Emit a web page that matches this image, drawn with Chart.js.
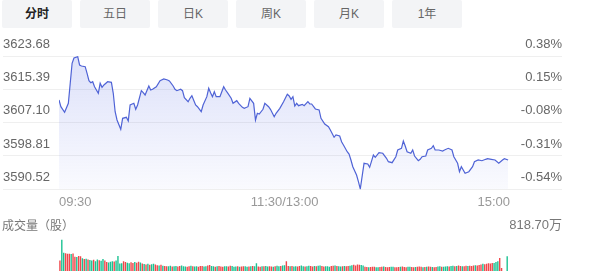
<!DOCTYPE html>
<html lang="zh">
<head>
<meta charset="UTF-8">
<title>分时</title>
<script src="https://cdn.jsdelivr.net/npm/chart.js"></script>
<style>
  html, body { margin: 0; padding: 0; background: #fff; }
  body { width: 590px; height: 272px; position: relative; overflow: hidden;
         font-family: 'Liberation Sans', 'Noto Sans CJK SC', sans-serif; }
  .tabs { position: absolute; left: 2px; top: 0; display: flex; gap: 8px; }
  .tab { width: 70px; height: 28px; line-height: 28px; text-align: center; background: #f3f4f6;
         border-radius: 2px; font-size: 12px; color: #666; font-family: 'Liberation Sans', 'Noto Sans CJK SC', sans-serif; }
  .tab.on { color: #222; font-weight: bold; }
  #priceChart { position: absolute; left: 0; top: 30px; }
  #volChart { position: absolute; left: 0; top: 212px; }
</style>
</head>
<body>
<div class="tabs">
  <div class="tab on">分时</div>
  <div class="tab">五日</div>
  <div class="tab">日K</div>
  <div class="tab">周K</div>
  <div class="tab">月K</div>
  <div class="tab">1年</div>
</div>
<canvas id="priceChart" width="590" height="182"></canvas>
<canvas id="volChart" width="590" height="60"></canvas>

<script>
  // price axis ticks (left) and change % (right)
  const priceTicks = [3590.52, 3598.81, 3607.10, 3615.39, 3623.68];
  const pctLabels = ['-0.54%', '-0.31%', '-0.08%', '0.15%', '0.38%'];

  // time axis: minute index 0..240 (09:30 - 11:30 / 13:00 - 15:00)
  const timeTickPos = [0, 120.5, 241];
  const timeLabels = ['09:30', '11:30/13:00', '15:00'];

  // intraday price
  const minutes = [
    0, 1, 3, 5, 6, 7, 8, 10, 11, 12,
    14, 15, 16, 17, 18, 19, 21, 22, 23, 24,
    26, 28, 29, 30, 31, 33, 34, 36, 37, 38,
    40, 41, 42, 44, 45, 46, 48, 49, 50, 52,
    54, 56, 58, 59, 61, 62, 63, 65, 66, 67,
    69, 70, 71, 73, 74, 76, 77, 79, 80, 81,
    82, 83, 84, 86, 88, 89, 90, 92, 93, 95,
    96, 98, 99, 101, 102, 104, 105, 106, 107, 109,
    110, 112, 113, 115, 116, 118, 120, 122, 123, 124,
    125, 126, 127, 128, 130, 131, 133, 134, 135, 137,
    139, 140, 142, 144, 145, 147, 148, 150, 151, 152,
    154, 155, 156, 157, 159, 160, 161, 163, 165, 166,
    168, 169, 171, 173, 175, 176, 178, 180, 181, 183,
    184, 185, 186, 188, 189, 190, 192, 193, 194, 196,
    197, 199, 200, 201, 203, 205, 206, 208, 210, 211,
    213, 214, 215, 217, 219, 221, 222, 224, 226, 228,
    229, 231, 233, 235, 237, 238, 240
  ];
  const prices = [
    3612.73, 3611.07, 3609.67, 3611.91, 3616.89, 3621.86, 3623.18, 3623.50, 3621.44, 3621.19,
    3621.02, 3619.38, 3617.54, 3617.04, 3617.29, 3616.04, 3614.40, 3616.89, 3615.89, 3616.47,
    3617.29, 3617.14, 3614.40, 3609.82, 3607.76, 3605.45, 3608.18, 3608.43, 3607.51, 3611.49,
    3611.91, 3610.42, 3611.49, 3615.05, 3614.55, 3613.98, 3616.22, 3615.22, 3615.40, 3616.04,
    3617.54, 3617.96, 3617.71, 3617.46, 3616.22, 3615.40, 3615.05, 3615.40, 3615.05, 3613.31,
    3612.31, 3613.16, 3613.80, 3611.49, 3611.07, 3609.82, 3611.49, 3613.56, 3615.65, 3614.55,
    3613.56, 3614.80, 3613.56, 3613.56, 3616.04, 3615.22, 3614.55, 3613.16, 3611.91, 3612.56,
    3611.91, 3610.92, 3610.67, 3611.07, 3613.16, 3611.91, 3607.76, 3609.43, 3609.25, 3610.42,
    3611.91, 3611.07, 3610.42, 3608.58, 3609.43, 3610.67, 3612.31, 3614.15, 3613.73, 3612.91,
    3613.56, 3611.24, 3611.91, 3611.32, 3611.66, 3611.32, 3612.31, 3611.74, 3611.74, 3610.50,
    3610.25, 3608.18, 3606.76, 3606.09, 3605.27, 3603.46, 3604.03, 3603.78, 3602.36, 3601.54,
    3599.87, 3599.30, 3597.81, 3596.14, 3594.08, 3592.41, 3590.60, 3596.99, 3596.81, 3595.99,
    3599.05, 3598.48, 3599.62, 3599.48, 3598.23, 3597.39, 3597.14, 3598.63, 3600.30, 3600.72,
    3602.54, 3601.29, 3599.87, 3599.48, 3600.30, 3598.80, 3597.63, 3597.98, 3598.63, 3598.80,
    3600.30, 3600.72, 3601.37, 3600.30, 3600.30, 3600.05, 3600.30, 3600.72, 3600.30, 3598.63,
    3596.99, 3594.90, 3596.14, 3594.50, 3594.90, 3596.14, 3597.39, 3597.81, 3597.63, 3597.98,
    3598.13, 3597.98, 3597.81, 3596.99, 3597.81, 3598.13, 3597.81
  ];

  // volume per minute (万股), one per minute 0..240
  const volume = [
    275, 818.7, 470, 460, 450, 445, 440, 455, 370, 360,
    390, 380, 330, 310, 320, 300, 285, 270, 290, 255,
    300, 280, 265, 310, 270, 230, 220, 240, 255, 245,
    270, 390, 195, 200, 250, 235, 215, 200, 225, 205,
    230, 215, 240, 220, 195, 180, 170, 190, 165, 175,
    185, 170, 150, 140, 160, 135, 130, 125, 120, 135,
    118, 122, 130, 115, 128, 140, 124, 118, 112, 126,
    135, 120, 115, 122, 110, 128, 132, 118, 125, 140,
    155, 128, 120, 112, 124, 130, 118, 110, 125, 120,
    115, 135, 128, 112, 118, 122, 108, 115, 126, 120,
    112, 118, 125, 130, 122, 200, 118, 112, 125, 120,
    130, 115, 122, 118, 110, 126, 135, 120, 128, 140,
    150, 250, 130, 120, 128, 115, 125, 118, 132, 140,
    126, 118, 122, 135, 128, 116, 130, 124, 138, 145,
    130, 118, 125, 120, 112, 128, 135, 142, 130, 122,
    118, 125, 130, 120, 128, 136, 150, 160, 140, 170,
    165, 155, 145, 110, 105, 98, 102, 112, 108, 100,
    95, 104, 110, 115, 106, 98, 102, 108, 112, 100,
    96, 105, 110, 118, 104, 99, 108, 112, 102, 97,
    106, 110, 115, 108, 100, 104, 112, 118, 110, 104,
    98, 106, 114, 120, 108, 112, 118, 125, 118, 130,
    135, 122, 128, 140, 132, 120, 126, 135, 128, 138,
    130, 142, 150, 145, 155, 170, 185, 178, 190, 200,
    195, 210, 210, 230, 250, 340, 80, 0, 0, 380,
    0
  ];
  // r = up minute, g = down minute
  const volSide = (
    'rggrrrgrrg' + 'rrgrgrggrg' + 'grggrrgggr' + 'ggggrrggrr' + 'grrgrgrgrg' +
    'grrgrgrrgg' + 'rggrrgggrr' + 'grggrrrggr' + 'rggrgrrrgg' + 'rrgggrgrrg' +
    'grgrggrrgr' + 'ggrrgrggrg' + 'grrgrggrrg' + 'grggrrgrgg' + 'rrgggrrgrg' +
    'grgrrggrrr' + 'rggrrgrrrg' + 'grrgrrrggr' + 'rrgrrrggrr' + 'grrrgrgrrg' +
    'rrggrgggrg' + 'grgrrgrrgr' + 'rrgrrrgrrr' + 'rrgggrrggg' + 'r'
  ).split('');
  const volMax = 818.7;
  const volMaxLabel = '818.70万';

  const UP = '#f0474b';
  const DOWN = '#1cc292';
  const numFont = { family: "'Liberation Sans', 'Noto Sans CJK SC', sans-serif", size: 13 };
  const cjkFont = { family: "'Liberation Sans', 'Noto Sans CJK SC', sans-serif", size: 12, weight: 'normal' };

  function fillGradient(ctx) {
    const area = ctx.chart.chartArea;
    if (!area) return 'rgba(84,104,228,0.1)';
    const g = ctx.chart.ctx.createLinearGradient(0, area.top, 0, area.bottom);
    g.addColorStop(0, 'rgba(84,104,228,0.2)');
    g.addColorStop(1, 'rgba(84,104,228,0.03)');
    return g;
  }

  const setPriceTicks = s => { s.ticks = priceTicks.map(v => ({ value: v })); };

  new Chart(document.getElementById('priceChart'), {
    type: 'line',
    data: {
      datasets: [{
        data: minutes.map((m, i) => ({ x: m, y: prices[i] })),
        yAxisID: 'y',
        borderColor: '#4f63d6',
        borderWidth: 1.2,
        pointRadius: 0,
        tension: 0,
        fill: 'start',
        backgroundColor: fillGradient
      }]
    },
    options: {
      responsive: false,
      animation: false,
      layout: { autoPadding: false, padding: { left: 3, right: 28, top: 26, bottom: 2 } },
      plugins: { legend: { display: false }, tooltip: { enabled: false } },
      scales: {
        x: {
          type: 'linear', min: 0, max: 241,
          grid: { display: false, drawTicks: false },
          border: { display: false },
          afterBuildTicks: s => { s.ticks = timeTickPos.map(v => ({ value: v })); },
          afterFit: s => { s.height = 20.7; },
          ticks: { align: 'inner', maxRotation: 0, autoSkip: false, padding: 5, color: '#999', font: numFont,
                   callback: (v, i) => timeLabels[i] }
        },
        y: {
          position: 'left', min: priceTicks[0], max: priceTicks[priceTicks.length - 1],
          afterBuildTicks: setPriceTicks,
          afterFit: s => { s.width = 56; },
          grid: { color: '#efefef', drawTicks: true, tickLength: 56 },
          border: { display: false },
          ticks: { crossAlign: 'far', labelOffset: -12, color: '#666', font: numFont,
                   callback: (v, i) => priceTicks[i].toFixed(2) }
        },
        y2: {
          position: 'right', display: true, min: priceTicks[0], max: priceTicks[priceTicks.length - 1],
          afterBuildTicks: setPriceTicks,
          afterFit: s => { s.width = 52; },
          grid: { drawOnChartArea: false, color: '#efefef', drawTicks: true, tickLength: 52 },
          border: { display: false },
          ticks: { crossAlign: 'far', labelOffset: -12, color: '#666', font: numFont,
                   callback: (v, i) => pctLabels[i] }
        }
      }
    }
  });

  new Chart(document.getElementById('volChart'), {
    type: 'bar',
    data: {
      labels: volume.map((_, i) => i),
      datasets: [{
        data: volume,
        xAxisID: 'x',
        yAxisID: 'y',
        backgroundColor: volSide.map(c => c === 'r' ? UP : DOWN),
        barPercentage: 0.75,
        categoryPercentage: 1
      }]
    },
    options: {
      responsive: false,
      animation: false,
      layout: { autoPadding: false, padding: { left: 2, right: 28, top: 0, bottom: 1 } },
      plugins: {
        legend: { display: false },
        tooltip: { enabled: false },
        title: { display: true, text: '成交量（股）', align: 'start', color: '#777', font: cjkFont,
                 padding: { top: 7, bottom: 6 } }
      },
      scales: {
        x: { display: false, offset: true },
        yl: {
          position: 'left', display: true,
          afterFit: s => { s.width = 57; },
          ticks: { display: false },
          grid: { display: false },
          border: { display: false }
        },
        y: {
          position: 'right', min: 0, max: volMax,
          afterBuildTicks: s => { s.ticks = [{ value: volMax }]; },
          afterFit: s => { s.width = 52; },
          grid: { display: false },
          border: { display: false },
          // tiny lineHeight keeps the label from reserving space under the bars
          ticks: { crossAlign: 'far', labelOffset: -13.5, padding: 0, color: '#777',
                   font: Object.assign({}, numFont, { lineHeight: 0.1 }),
                   callback: () => volMaxLabel }
        }
      }
    }
  });
</script>
</body>
</html>
